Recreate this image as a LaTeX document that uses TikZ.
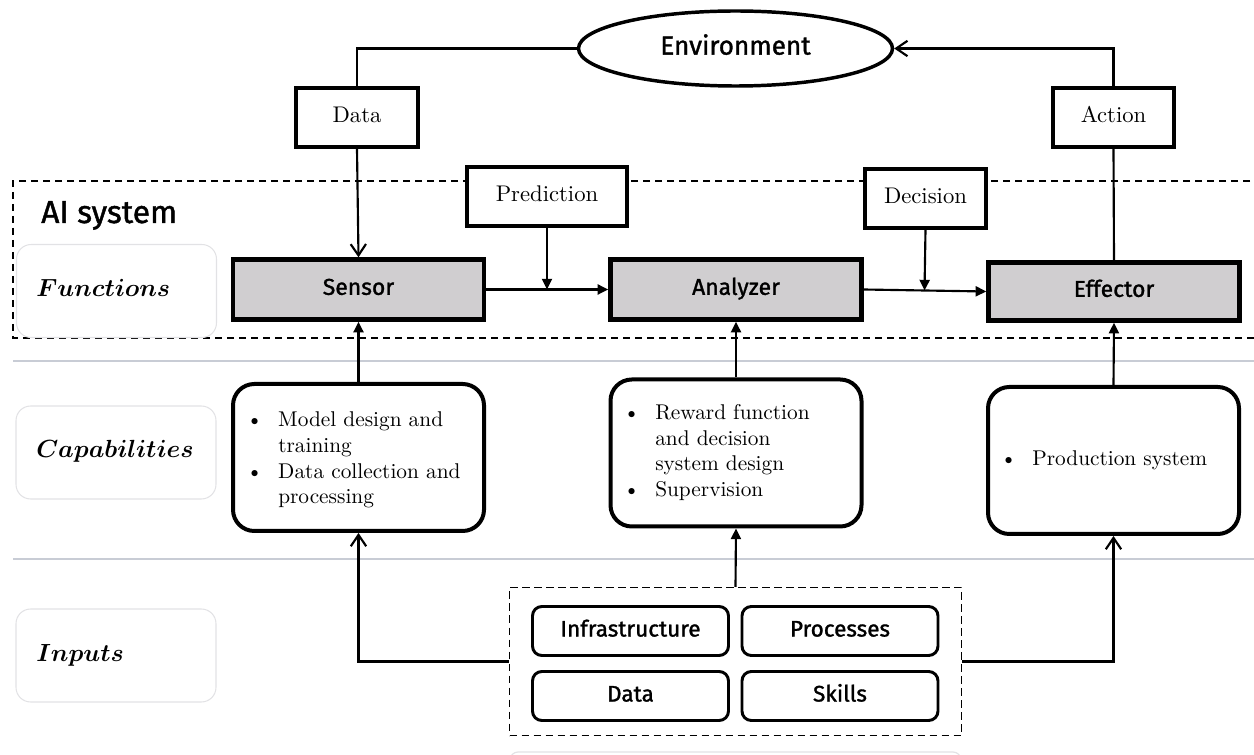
\documentclass[tikz,border=0pt]{standalone}
\usepackage{fontspec}
\usepackage{bm}
\usetikzlibrary{arrows.meta,shapes.geometric,calc}
\newfontfamily\hsans{Fira Sans}[FakeBold=1.3]
\newfontfamily\serifx{lmroman10-regular.otf}
% scalable bold math italic for the row labels
\DeclareFontShape{OML}{cmm}{b}{it}{<->cmmib10}{}
\definecolor{boxgray}{HTML}{D0CED0}
\definecolor{sepline}{HTML}{C8CCD5}
\definecolor{lblborder}{HTML}{E2E2E5}
\def\pxl{0.75pt}
\newcommand\capitem[1]{\makebox[19.5pt][l]{\hspace{-4.5pt}\textbullet}#1}
\newcommand\capcont[1]{\hspace*{19.5pt}#1}
\tikzset{
  conn/.style={line width=1.6pt, draw=black},
  filltip/.style={-{Triangle[length=8pt,width=7.5pt]}},
  opentip/.style={-{Straight Barb[length=8.5pt,width=11.5pt]}},
  funcbox/.style={draw, line width=3.3pt, fill=boxgray, inner sep=0,
    minimum width=251*\pxl, minimum height=60*\pxl,
    text height=12pt, text depth=4pt,
    font=\hsans\fontsize{17.2}{21}\selectfont},
  tagbox/.style={draw, line width=3pt, fill=white, inner sep=0,
    minimum height=59*\pxl, text height=11.6pt, text depth=3.4pt,
    font=\serifx\fontsize{17}{20}\selectfont},
  capbox/.style={draw, line width=3pt, rounded corners=16pt, inner sep=0,
    minimum width=251*\pxl, minimum height=147*\pxl},
  captext/.style={anchor=west, inner sep=0, align=left,
    font=\serifx\fontsize{16}{19.2}\selectfont},
  inputbox/.style={draw, line width=2.2pt, rounded corners=7pt, inner sep=0,
    minimum width=196*\pxl, minimum height=49*\pxl,
    text height=11.7pt, text depth=3.4pt,
    font=\hsans\fontsize{16.9}{21}\selectfont},
  lblbox/.style={draw=lblborder, line width=0.8pt, rounded corners=11pt,
    minimum width=200*\pxl, minimum height=93*\pxl, inner sep=0},
  lbltext/.style={anchor=base west, inner sep=0, font=\fontsize{18.6}{22}\selectfont},
  aidash/.style={dash pattern=on 5.5pt off 3.5pt, line width=1.3pt},
  sepstyle/.style={draw=sepline, line width=1.2pt},
}
\begin{document}
\begin{tikzpicture}[x=0.75pt,y=-0.75pt]
\useasboundingbox (0,0) rectangle (1254,755);

% layer separators
\draw[sepstyle] (13,361) -- (1254,361);
\draw[sepstyle] (13,559) -- (1254,559);
\draw[draw=lblborder, line width=0.9pt, rounded corners=6pt] (510,790) -- (510,752) -- (961,752) -- (961,790);

% AI system frame
\draw[aidash] (1262,181) -- (13,181) -- (13,338) -- (1262,338);
\node[anchor=base west, inner sep=0, font=\hsans\fontsize{23.8}{27}\selectfont] (aisys) at (41,223) {AI system};

% row labels
\node[lblbox] (flbl) at (116.5,291) {};
\node[lbltext] (ftxt) at (36,297) {$\bm{Functions}$};
\node[lblbox] (clbl) at (116,452.5) {};
\node[lbltext] (ctxt) at (36,458) {$\bm{Capabilities}$};
\node[lblbox] (ilbl) at (116,655.5) {};
\node[lbltext] (itxt) at (36,662) {$\bm{Inputs}$};

% environment and exchanged items
\node[draw, ellipse, line width=2.6pt, fill=white, inner sep=0,
  minimum width=314*\pxl, minimum height=75*\pxl,
  text height=13.6pt, text depth=4.4pt,
  font=\hsans\fontsize{19.6}{24}\selectfont] (env) at (735.5,48.5) {Environment};
\node[tagbox, minimum width=122*\pxl] (data) at (357,117.5) {Data};
\node[tagbox, minimum width=121*\pxl] (action) at (1113.5,117.5) {Action};
\node[tagbox, minimum width=160*\pxl] (pred) at (547,196.5) {Prediction};
\node[tagbox, minimum width=121*\pxl] (dec) at (925.5,198.5) {Decision};

% functions
\node[funcbox] (sensor) at (358.5,289.5) {Sensor};
\node[funcbox] (analyzer) at (736,289.5) {Analyzer};
\node[funcbox, minimum height=58*\pxl] (effector) at (1114,291.5) {Effector};

% capabilities
\node[capbox] (capL) at (358.5,457.5) {};
\node[captext] (capLt) at (252,460) {\capitem{Model design and}\\ \capcont{training}\\ \capitem{Data collection and}\\ \capcont{processing}};
\node[capbox] (capM) at (736,453) {};
\node[captext] (capMt) at (629,452.5) {\capitem{Reward function}\\ \capcont{and decision}\\ \capcont{system design}\\ \capitem{Supervision}};
\node[capbox] (capR) at (1113.5,460.5) {};
\node[captext] (capRt) at (1006,460) {\capitem{Production system}};

% inputs
\node[draw, aidash, line width=1.1pt, inner sep=0, minimum width=452*\pxl, minimum height=148*\pxl] (inputs) at (735.5,661.5) {};
\node[inputbox] (infra) at (630.5,631) {Infrastructure};
\node[inputbox] (proc) at (840,631) {Processes};
\node[inputbox] (dat) at (630.5,696) {Data};
\node[inputbox] (skills) at (840,696) {Skills};

% loop through the environment
\draw[conn] (env.west) -| (data.north);
\draw[conn, opentip] (data.south) -- (sensor.north);
\draw[conn] (effector.north) -- (action.south);
\draw[conn, opentip] (action.north) |- (env.east);

% flow between functions
\draw[conn, filltip] (sensor.east) -- (analyzer.west);
\draw[conn, filltip] (pred.south) -- (pred.south |- sensor.east);
\draw[conn, filltip] (analyzer.east) -- (effector.west);
\draw[conn, filltip] (dec.south) -- ($(analyzer.east)!(dec.south)!(effector.west)$);

% capabilities feed functions
\draw[conn, filltip] (capL.north) -- (sensor.south);
\draw[conn, filltip] (capM.north) -- (analyzer.south);
\draw[conn, filltip] (capR.north) -- (effector.south);

% inputs feed capabilities
\draw[conn, opentip] (inputs.west) -| (capL.south);
\draw[conn, opentip] (inputs.east) -| (capR.south);
\draw[conn, filltip] (inputs.north) -- (capM.south);
\end{tikzpicture}
\end{document}
